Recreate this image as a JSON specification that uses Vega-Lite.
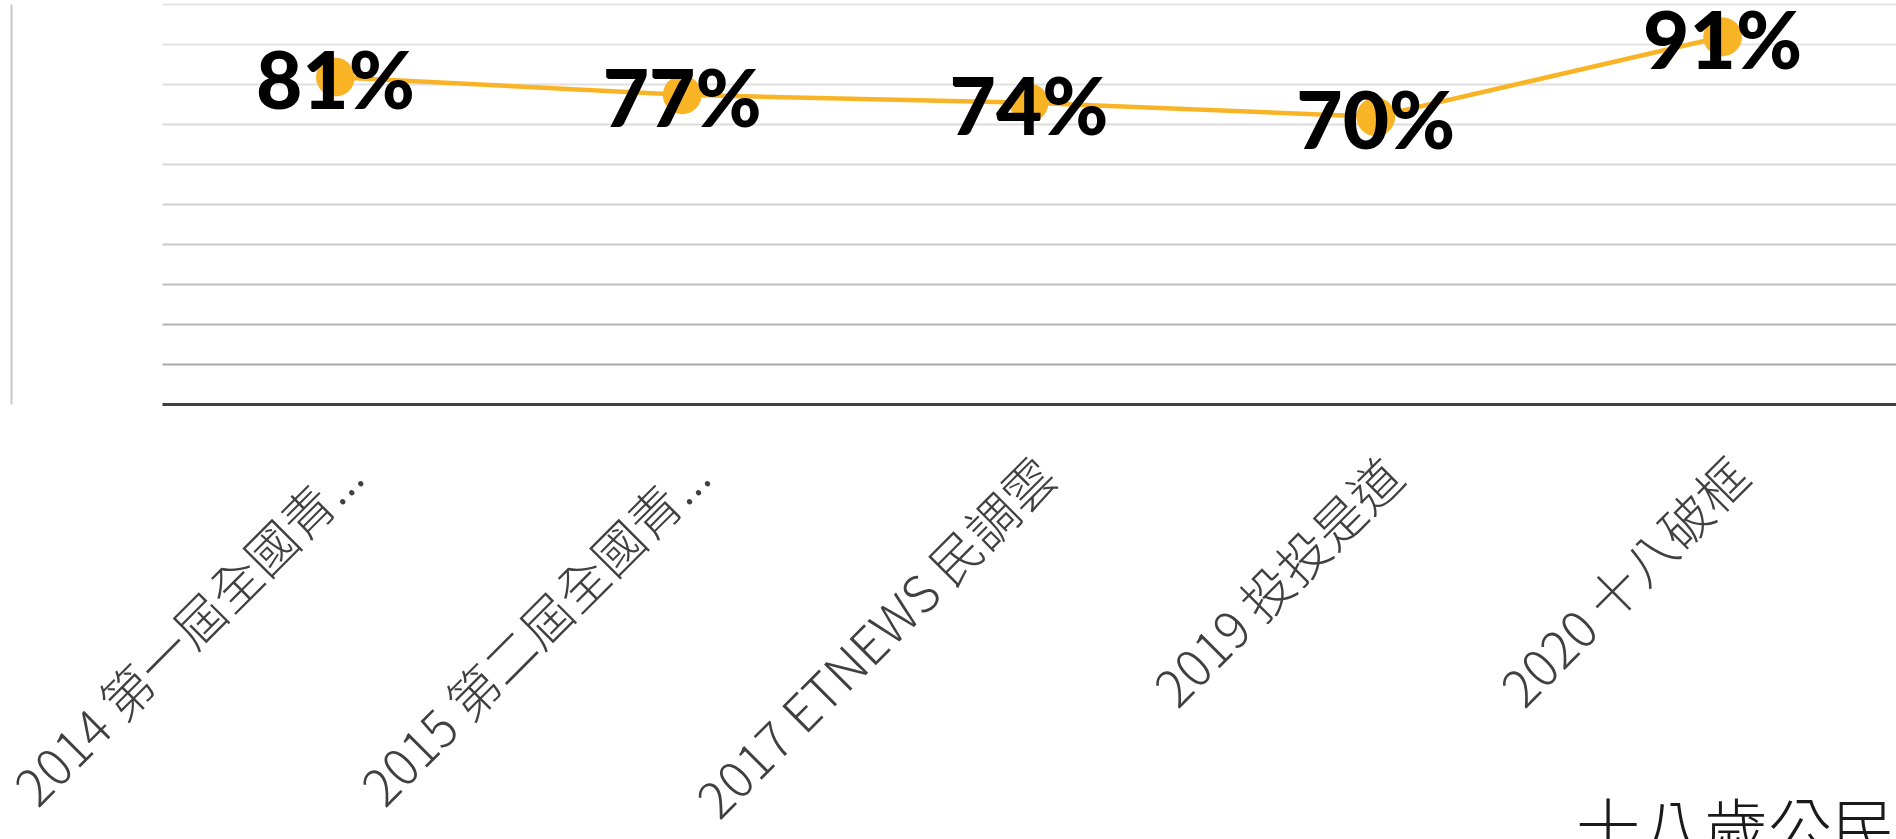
{
  "$schema": "https://vega.github.io/schema/vega-lite/v6.json",
  "width": 1734,
  "height": 400,
  "autosize": {"type": "none"},
  "padding": {"left": 162, "top": 4, "right": 0, "bottom": 435},
  "background": "#ffffff",
  "config": {"view": {"stroke": null}},
  "title": {
    "text": "十八歲公民",
    "orient": "bottom",
    "anchor": "end",
    "font": "Noto Sans CJK TC",
    "fontSize": 64,
    "fontWeight": 300,
    "color": "#1a1a1a",
    "baseline": "top",
    "dx": 0,
    "offset": -27
  },
  "data": {
    "values": [
      {"name": "2014 第一屆全國青...", "value": 0.817, "label": "81%"},
      {"name": "2015 第二屆全國青...", "value": 0.773, "label": "77%"},
      {"name": "2017 ETNEWS 民調雲", "value": 0.753, "label": "74%"},
      {"name": "2019 投投是道", "value": 0.718, "label": "70%"},
      {"name": "2020 十八破框", "value": 0.918, "label": "91%"}
    ]
  },
  "encoding": {
    "x": {
      "field": "name",
      "type": "nominal",
      "sort": null,
      "scale": {"type": "band", "paddingInner": 0, "paddingOuter": 0},
      "axis": {
        "title": null,
        "labelAngle": -45,
        "labelFont": "Noto Sans CJK TC",
        "labelFontSize": 51,
        "labelFontWeight": 300,
        "labelColor": "#404040",
        "labelLimit": 0,
        "labelPadding": 48,
        "labelOffset": 3,
        "ticks": false,
        "domainColor": "#404040",
        "domainWidth": 3,
        "grid": false
      }
    },
    "y": {
      "field": "value",
      "type": "quantitative",
      "scale": {"domain": [0, 1], "nice": false, "zero": true},
      "axis": {
        "title": null,
        "labels": false,
        "ticks": false,
        "values": [0.1, 0.2, 0.3, 0.4, 0.5, 0.6, 0.7, 0.8, 0.9, 1.0],
        "offset": 151,
        "domain": true,
        "domainColor": "#c8c8c8",
        "domainWidth": 2,
        "grid": true,
        "gridWidth": 2,
        "gridColor": {
          "condition": [
            {"test": "datum.value > 0.95", "value": "#e6e6e6"},
            {"test": "datum.value > 0.85", "value": "#e3e3e3"},
            {"test": "datum.value > 0.75", "value": "#e0e0e0"},
            {"test": "datum.value > 0.65", "value": "#dcdcdc"},
            {"test": "datum.value > 0.55", "value": "#d7d7d7"},
            {"test": "datum.value > 0.45", "value": "#d0d0d0"},
            {"test": "datum.value > 0.35", "value": "#c8c8c8"},
            {"test": "datum.value > 0.25", "value": "#bebebe"},
            {"test": "datum.value > 0.15", "value": "#b4b4b4"}
          ],
          "value": "#a8a8a8"
        }
      }
    }
  },
  "layer": [
    {"mark": {"type": "line", "color": "#F8B425", "strokeWidth": 4.5}},
    {"mark": {"type": "point", "filled": true, "opacity": 1, "color": "#F8B425", "size": 1500}},
    {
      "mark": {
        "type": "text",
        "font": "Lato",
        "fontWeight": 900,
        "fontSize": 80,
        "color": "#000000",
        "baseline": "middle",
        "align": "center",
        "dy": 8
      },
      "encoding": {"text": {"field": "label"}}
    }
  ]
}
